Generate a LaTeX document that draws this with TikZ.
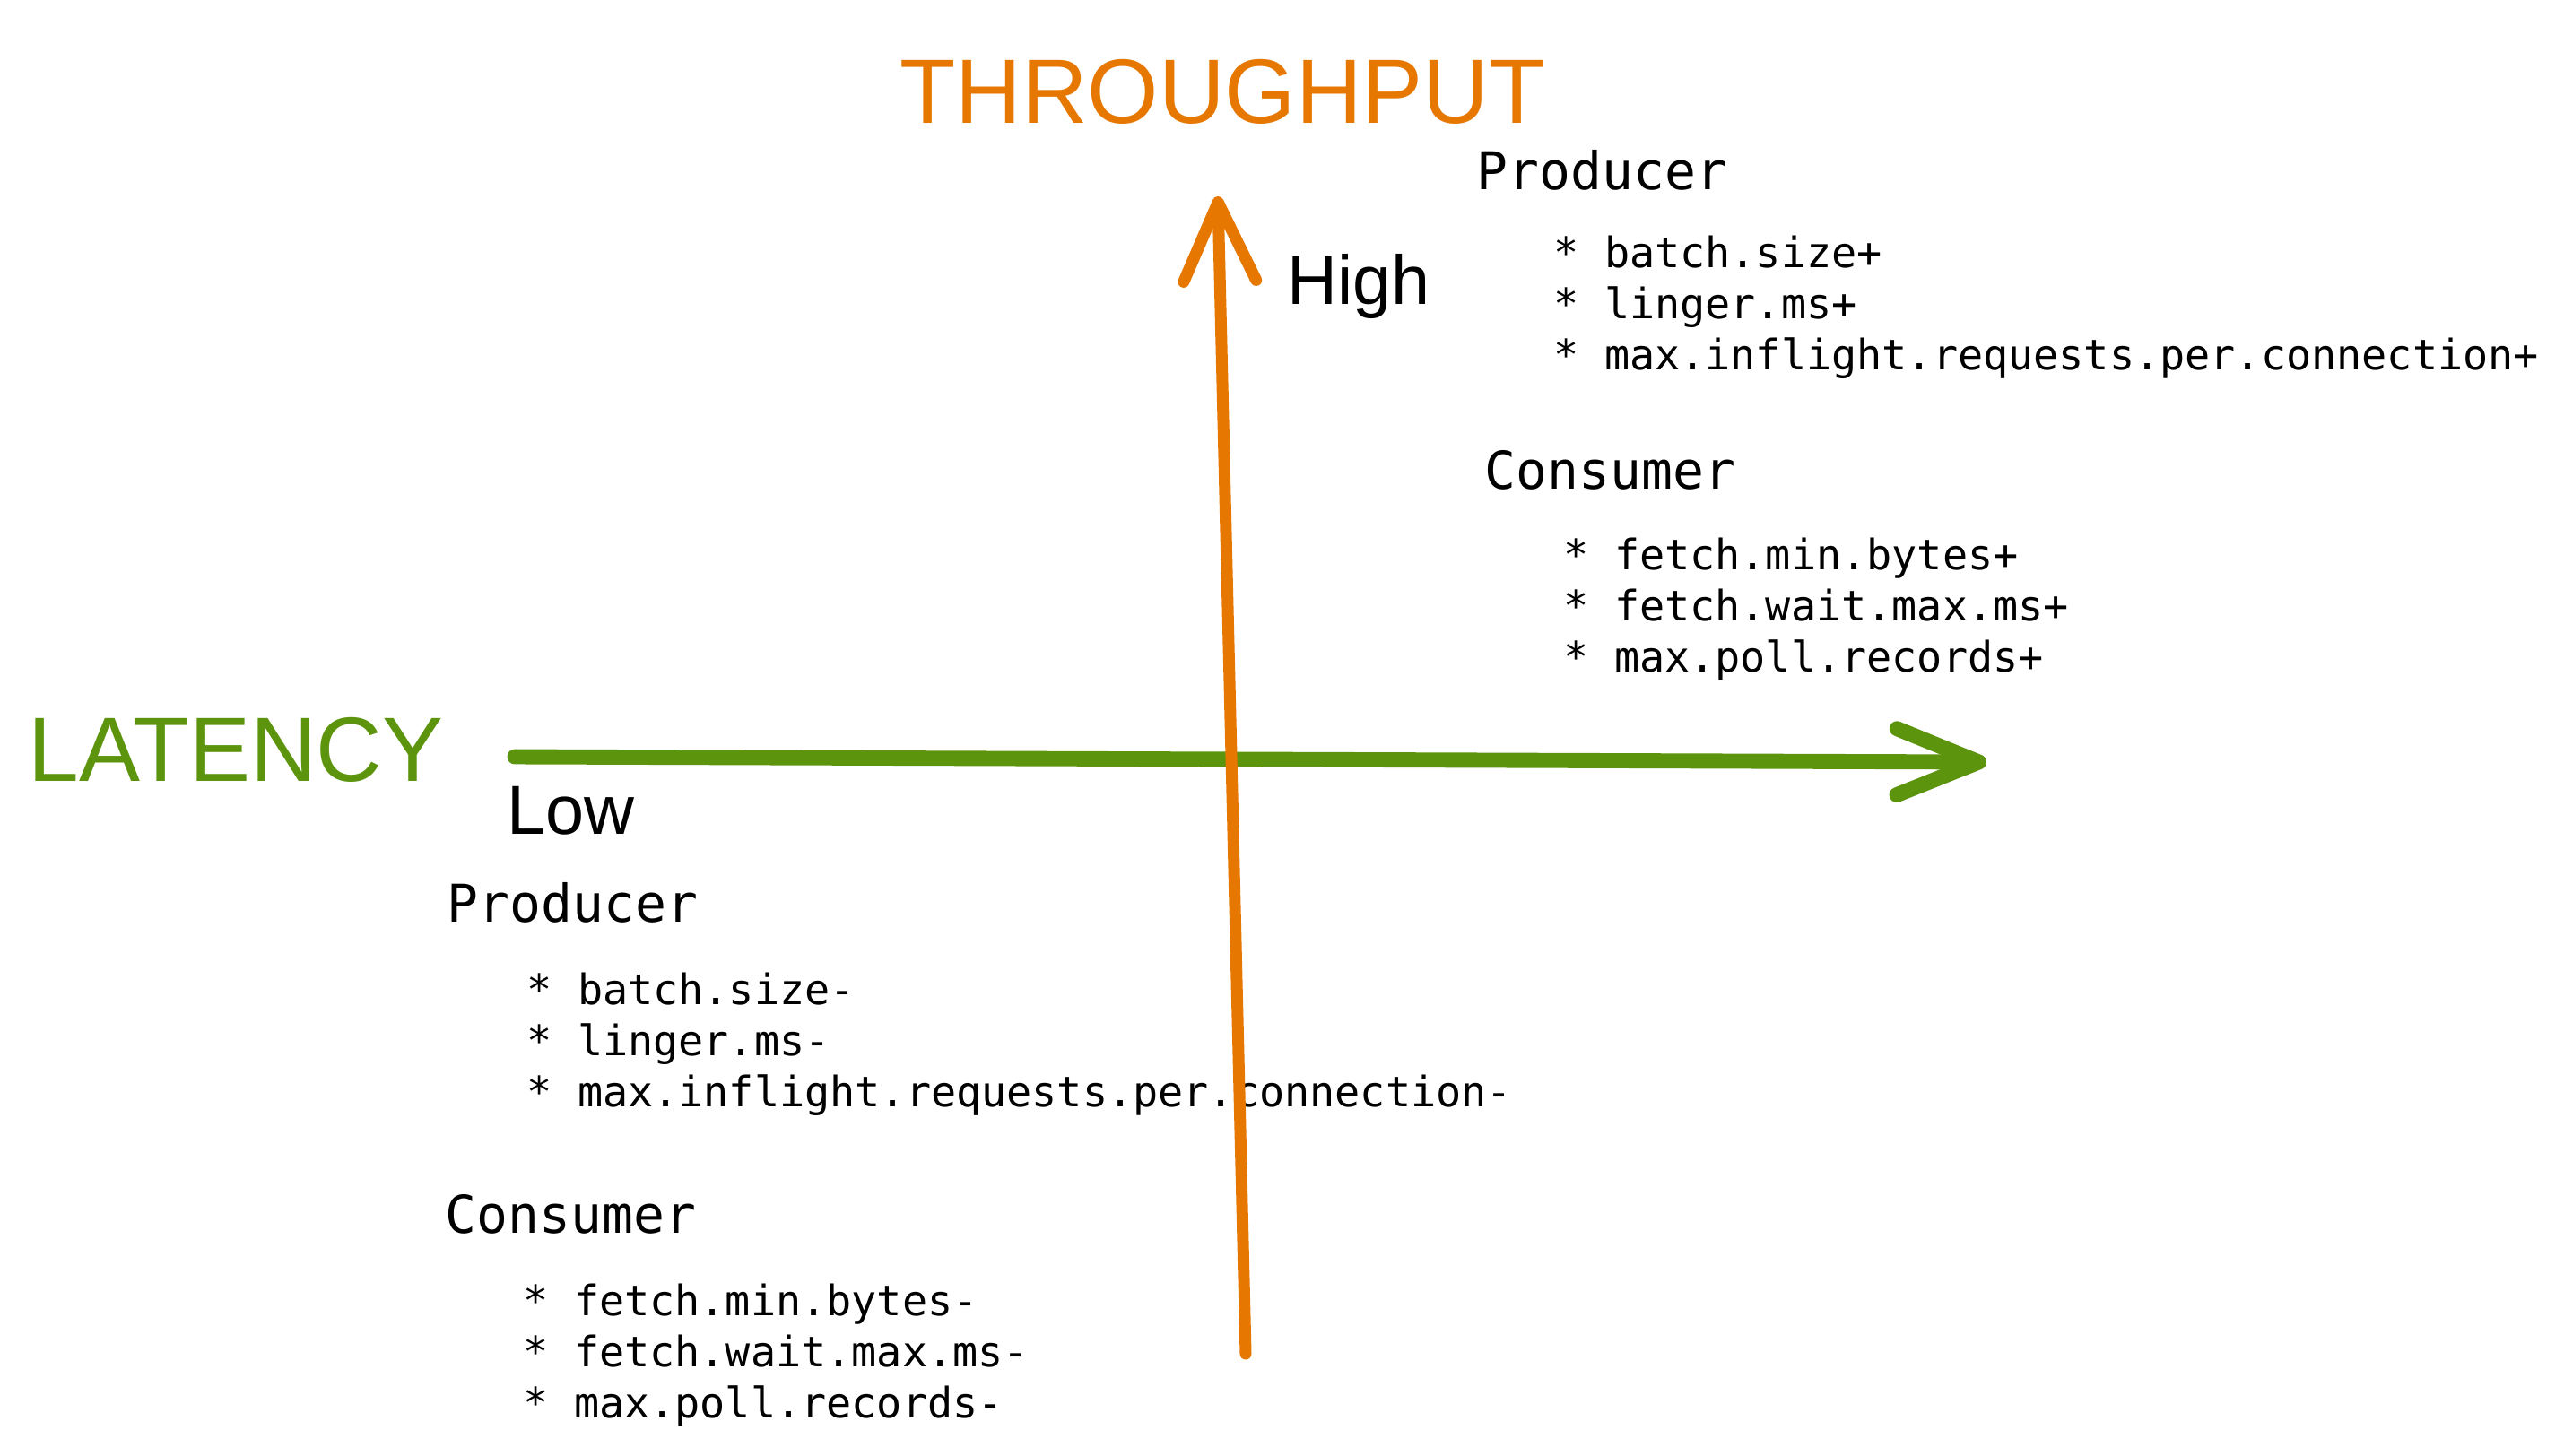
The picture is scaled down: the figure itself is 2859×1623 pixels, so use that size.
\documentclass[tikz,border=0pt]{standalone}
\usepackage{fontspec}
\setmainfont{Liberation Sans}
\setmonofont{DejaVu Sans Mono}
\usetikzlibrary{arrows.meta}
\definecolor{latgreen}{HTML}{5C940D}
\definecolor{thruorange}{HTML}{E67700}

\begin{document}
\begin{tikzpicture}[
    x=0.01cm, y=-0.01cm,
    axislabel/.style={inner sep=0pt, anchor=base, font=\fontsize{29}{34}\selectfont},
    endlabel/.style={inner sep=0pt, anchor=base west, font=\fontsize{22}{26}\selectfont},
    heading/.style={inner sep=0pt, anchor=base west, font=\ttfamily\fontsize{16.5}{20}\selectfont},
    items/.style={inner sep=0pt, anchor=base west, align=left, font=\ttfamily\fontsize{13.3}{16.2}\selectfont},
    latarrow/.style={draw=latgreen, line width=4.8pt, line cap=round, -{Straight Barb[length=26pt, width=21pt, round]}},
    thruarrow/.style={draw=thruorange, line width=3.7pt, line cap=round, -{Straight Barb[length=25pt, width=23pt, round]}}
  ]
    \useasboundingbox (0,0) rectangle (2859,1623);
    \node[axislabel, text=thruorange] (thru) at (1363,137) {THROUGHPUT};
    \node[axislabel, text=latgreen, anchor=base west] (lat) at (31,871) {LATENCY};
    \node[endlabel] (high) at (1435,339) {High};
    \node[endlabel] (low) at (565,930) {Low};
    % lists are placed by the baseline of their last line
    \node[heading] (prodHi) at (1646,211) {Producer};
    \node[items] (prodHiList) at (1732,412) {* batch.size+\\* linger.ms+\\* max.inflight.requests.per.connection+};
    \node[heading] (consHi) at (1655,545) {Consumer};
    \node[items] (consHiList) at (1743,749) {* fetch.min.bytes+\\* fetch.wait.max.ms+\\* max.poll.records+};
    \node[heading] (prodLo) at (498,1028) {Producer};
    \node[items] (prodLoList) at (587,1234) {* batch.size-\\* linger.ms-\\* max.inflight.requests.per.connection-};
    \node[heading] (consLo) at (496,1375) {Consumer};
    \node[items] (consLoList) at (583,1581) {* fetch.min.bytes-\\* fetch.wait.max.ms-\\* max.poll.records-};
    \coordinate (latFrom) at (574,844);
    \coordinate (latTo) at (2215,850);
    \coordinate (thruFrom) at (1389,1510);
    \coordinate (thruTo) at (1358,219);
    \draw[latarrow] (latFrom) -- (latTo);
    \draw[thruarrow] (thruFrom) -- (thruTo);
  \end{tikzpicture}
\end{document}
